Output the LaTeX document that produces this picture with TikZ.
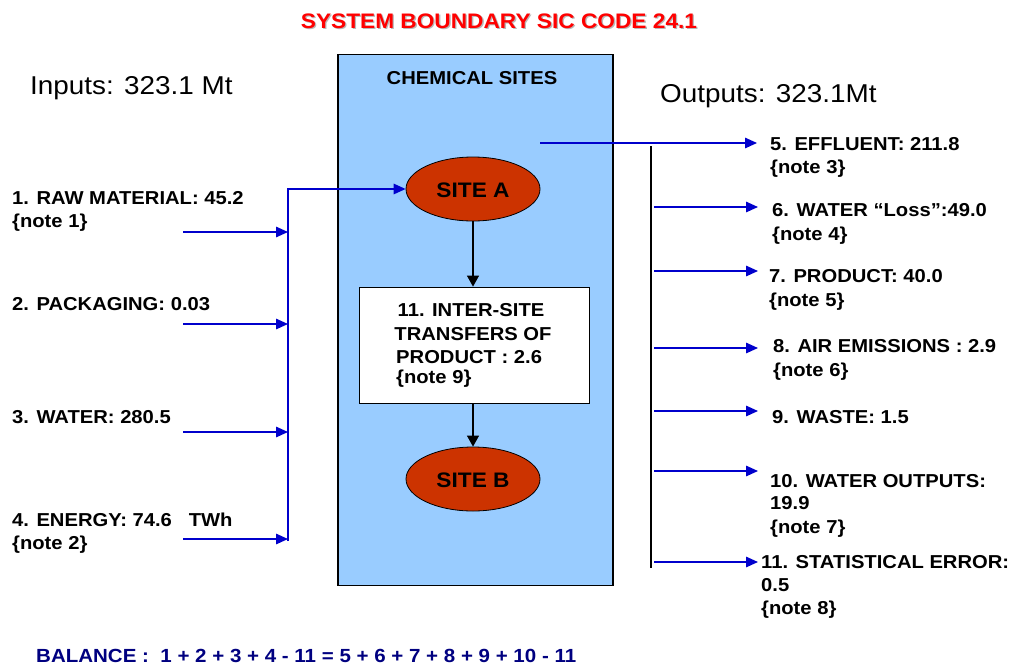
\documentclass[tikz,border=0pt]{standalone}
\usepackage{fontspec}
\setmainfont{Liberation Sans}[FakeStretch=1.08]
\usetikzlibrary{arrows.meta,shapes.geometric}
\definecolor{boxblue}{HTML}{99CCFF}
\definecolor{siteRed}{HTML}{CC3300}
\definecolor{flowblue}{HTML}{0000CC}
\definecolor{navyblue}{HTML}{000080}
\definecolor{titlered}{HTML}{FF0000}
\newcommand{\lblfont}{\fontsize{18.7}{23}\selectfont\bfseries}
\newcommand{\ttlfont}{\fontsize{21}{25}\selectfont\bfseries}
\newcommand{\bigfont}{\fontsize{25.8}{30}\selectfont}
\tikzset{
  lbl/.style={anchor=base west, inner sep=0pt, font=\lblfont},
  clbl/.style={anchor=base, inner sep=0pt, font=\lblfont},
  flow/.style={draw=flowblue, line width=1.5pt, -{Triangle[length=12pt,width=10.5pt]}},
  blackflow/.style={draw=black, line width=1.2pt, -{Triangle[length=11pt,width=12pt]}},
  site/.style={ellipse, draw=black, line width=0.8pt, fill=siteRed, minimum width=134pt, minimum height=64pt, inner sep=0pt},
}
\begin{document}
\begin{tikzpicture}[x=1pt,y=-1pt]
\useasboundingbox (0,0) rectangle (1014,664);
% title
\node[anchor=base, inner sep=0pt, font=\ttlfont, text=gray!55] (titleshadow) at (500.3,29.3) {SYSTEM BOUNDARY SIC CODE 24.1};
\node[anchor=base, inner sep=0pt, font=\ttlfont, text=titlered] (title) at (499,28) {SYSTEM BOUNDARY SIC CODE 24.1};
\node[anchor=base west, inner sep=0pt, font=\bigfont] (inputs) at (30,94) {Inputs: 323.1 Mt};
\node[anchor=base west, inner sep=0pt, font=\bigfont] (outputs) at (660,102) {Outputs: 323.1Mt};
% chemical sites box
\node[draw=black, line width=1.4pt, fill=boxblue, minimum width=275pt, minimum height=531pt, inner sep=0pt] (chem) at (475.5,320) {};
\node[clbl] (chemtitle) at (472,84) {CHEMICAL SITES};
\node[site] (sitea) at (473,189) {};
\node[anchor=base, inner sep=0pt, font=\ttlfont] (siteatext) at (473,197) {SITE A};
\node[site] (siteb) at (473,479) {};
\node[anchor=base, inner sep=0pt, font=\ttlfont] (sitebtext) at (473,487) {SITE B};
\node[draw=black, line width=0.8pt, fill=white, minimum width=230pt, minimum height=116pt, inner sep=0pt] (xfer) at (474,345) {};
\node[clbl] (x1) at (471,316) {11. INTER-SITE};
\node[clbl] (x2) at (473,340) {TRANSFERS OF};
\node[lbl] (x3) at (396,363) {PRODUCT : 2.6};
\node[lbl] (x4) at (396,383) {\{note 9\}};
\draw[blackflow] (sitea.south) -- (xfer.north -| sitea.south);
\draw[blackflow] (xfer.south -| siteb.north) -- (siteb.north);
% inputs
\node[lbl] (in1) at (12,204) {1. RAW MATERIAL: 45.2};
\node[lbl] (in1n) at (12,227) {\{note 1\}};
\node[lbl] (in2) at (12,310) {2. PACKAGING: 0.03};
\node[lbl] (in3) at (12,423) {3. WATER: 280.5};
\node[lbl] (in4) at (12,526) {4. ENERGY: 74.6\ \ \ TWh};
\node[lbl] (in4n) at (12,549) {\{note 2\}};
\coordinate (s1) at (183,232); \coordinate (b1) at (288,232);
\coordinate (s2) at (183,324); \coordinate (b2) at (288,324);
\coordinate (s3) at (183,432); \coordinate (b3) at (288,432);
\coordinate (s4) at (183,539); \coordinate (b4) at (288,539);
\coordinate (bt) at (288,189); \coordinate (bb) at (288,541);
\foreach \i in {1,...,4} {\draw[flow] (s\i) -- (b\i);}
\draw[flow] (bb) -- (bt) -- (sitea.west);
% outputs
\coordinate (effs) at (540,143); \coordinate (effe) at (757,143);
\draw[flow] (effs) -- (effe);
\coordinate (vt) at (651,146); \coordinate (vb) at (651,568);
\draw[line width=1.4pt, black] (vt) -- (vb);
\foreach \n/\y in {6/207,7/271,8/348,9/411,10/471,11/562} {
  \coordinate (o\n s) at (654,\y); \coordinate (o\n e) at (758,\y);
  \draw[flow] (o\n s) -- (o\n e);
}
\node[lbl] (out5) at (770,150) {5. EFFLUENT: 211.8};
\node[lbl] (out5n) at (770,173) {\{note 3\}};
\node[lbl] (out6) at (772,216) {6. WATER “Loss”:49.0};
\node[lbl] (out6n) at (772,240) {\{note 4\}};
\node[lbl] (out7) at (769,282) {7. PRODUCT: 40.0};
\node[lbl] (out7n) at (769,306) {\{note 5\}};
\node[lbl] (out8) at (773,352) {8. AIR EMISSIONS : 2.9};
\node[lbl] (out8n) at (773,376) {\{note 6\}};
\node[lbl] (out9) at (772,423) {9. WASTE: 1.5};
\node[lbl] (out10) at (770,487) {10. WATER OUTPUTS:};
\node[lbl] (out10a) at (770,509) {19.9};
\node[lbl] (out10n) at (770,533) {\{note 7\}};
\node[lbl] (out11) at (761,568) {11. STATISTICAL ERROR:};
\node[lbl] (out11a) at (761,591) {0.5};
\node[lbl] (out11n) at (761,614) {\{note 8\}};
% balance
\node[lbl, text=navyblue, font=\fontsize{19}{23}\selectfont\bfseries] (balance) at (36,662) {BALANCE :\ \ 1 + 2 + 3 + 4 - 11 = 5 + 6 + 7 + 8 + 9 + 10 - 11};
\end{tikzpicture}
\end{document}
